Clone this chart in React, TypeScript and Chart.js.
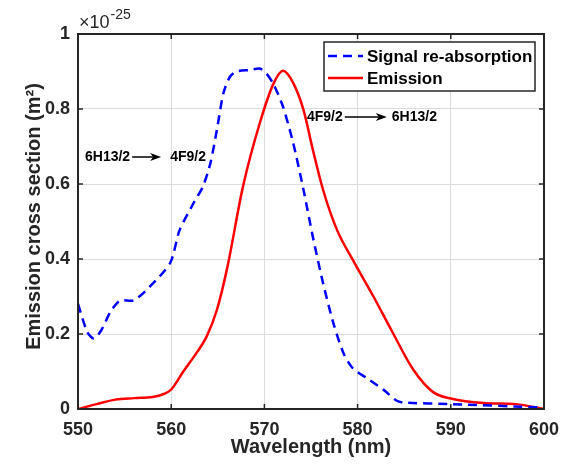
import React, { useEffect, useRef } from "react";
import { Chart, registerables } from "chart.js";

Chart.register(...registerables);

// Signal re-absorption (blue dashed)
const absWavelength = [550, 551, 551.7, 552.5, 553.5, 554.5, 556, 557.7, 559.9, 560.9, 562.4, 563.4, 564.2, 564.9, 565.6, 566.3, 567.0, 568.5, 569.5, 570.2, 571.0, 572.0, 573.1, 574.2, 575.2, 576.3, 577.4, 578.5, 579.5, 581.0, 582.8, 584.2, 585, 590, 600];
const absValue = [0.28, 0.205, 0.188, 0.21, 0.26, 0.289, 0.29, 0.326, 0.39, 0.477, 0.549, 0.593, 0.655, 0.744, 0.842, 0.886, 0.90, 0.904, 0.908, 0.895, 0.865, 0.806, 0.708, 0.584, 0.459, 0.335, 0.229, 0.148, 0.108, 0.082, 0.051, 0.022, 0.017, 0.013, 0.004];

// Emission (red solid)
const emWavelength = [550, 552, 554, 556, 558, 559.2, 560, 561.3, 562.7, 563.8, 564.9, 566, 567.7, 569.5, 571.0, 572.0, 573.1, 574.2, 575.2, 576.3, 577.8, 579.5, 581.7, 583.8, 586.0, 588.1, 590, 593.5, 597, 600];
const emValue = [0, 0.013, 0.025, 0.029, 0.032, 0.04, 0.052, 0.10, 0.149, 0.193, 0.264, 0.375, 0.593, 0.762, 0.869, 0.902, 0.869, 0.797, 0.691, 0.584, 0.477, 0.397, 0.30, 0.202, 0.104, 0.045, 0.028, 0.016, 0.013, 0];

const xTickValues = [550, 560, 570, 580, 590, 600];
const yTickValues = [0, 0.2, 0.4, 0.6, 0.8, 1];
const yTickLabels = ["0", "0.2", "0.4", "0.6", "0.8", "1"];

const seriesNames = ["Signal re-absorption", "Emission"];
const xTitle = "Wavelength (nm)";
const yTitle = "Emission cross section (m\u00B2)";
const annotations = [
  { x: 550.75, y: 0.672, from: "6H13/2", to: "4F9/2", arrow: 29, gapTo: 9 },
  { x: 574.57, y: 0.779, from: "4F9/2", to: "6H13/2", arrow: 42, gapTo: 5 },
];

const FONT = "'Liberation Sans', Arial, Helvetica, sans-serif";
const AXIS = "#262626";

const framePlugin = {
  id: "framePlugin",
  afterDatasetsDraw(chart: any) {
    const ctx = chart.ctx;
    const { left, right, top, bottom } = chart.chartArea;
    const xs = chart.scales.x;
    const ys = chart.scales.y;
    ctx.save();
    // annotations
    ctx.fillStyle = "#000";
    ctx.strokeStyle = "#000";
    ctx.font = `bold 14px ${FONT}`;
    ctx.textBaseline = "middle";
    ctx.textAlign = "left";
    for (const a of annotations) {
      const px = xs.getPixelForValue(a.x);
      const py = ys.getPixelForValue(a.y);
      ctx.fillText(a.from, px, py);
      const w = ctx.measureText(a.from).width;
      const x0 = px + w + 2;
      const x1 = x0 + a.arrow;
      ctx.lineWidth = 1.5;
      ctx.beginPath();
      ctx.moveTo(x0, py);
      ctx.lineTo(x1 - 8, py);
      ctx.stroke();
      ctx.beginPath();
      ctx.moveTo(x1, py);
      ctx.lineTo(x1 - 11, py - 4);
      ctx.lineTo(x1 - 8, py);
      ctx.lineTo(x1 - 11, py + 4);
      ctx.closePath();
      ctx.fill();
      ctx.fillText(a.to, x1 + a.gapTo, py);
    }
    // frame
    ctx.strokeStyle = AXIS;
    ctx.lineWidth = 2;
    ctx.strokeRect(left, top, right - left, bottom - top);
    // inward ticks
    ctx.lineWidth = 1.5;
    ctx.beginPath();
    for (const v of xTickValues) {
      const p = xs.getPixelForValue(v);
      ctx.moveTo(p, bottom);
      ctx.lineTo(p, bottom - 5);
      ctx.moveTo(p, top);
      ctx.lineTo(p, top + 5);
    }
    for (const v of yTickValues) {
      const p = ys.getPixelForValue(v);
      ctx.moveTo(left, p);
      ctx.lineTo(left + 5, p);
      ctx.moveTo(right, p);
      ctx.lineTo(right - 5, p);
    }
    ctx.stroke();
    // legend
    const bx1 = right - 9;
    const bx0 = bx1 - 211;
    const by0 = top + 8;
    const by1 = by0 + 49;
    ctx.fillStyle = "#fff";
    ctx.fillRect(bx0, by0, bx1 - bx0, by1 - by0);
    ctx.strokeStyle = AXIS;
    ctx.lineWidth = 1.5;
    ctx.strokeRect(bx0, by0, bx1 - bx0, by1 - by0);
    const rows = [by0 + 14, by0 + 36];
    const ds = chart.data.datasets;
    for (let i = 0; i < 2; i++) {
      ctx.strokeStyle = ds[i].borderColor;
      ctx.lineWidth = 2.5;
      ctx.setLineDash(ds[i].borderDash || []);
      ctx.beginPath();
      ctx.moveTo(bx0 + 4, rows[i]);
      ctx.lineTo(bx0 + 39, rows[i]);
      ctx.stroke();
      ctx.setLineDash([]);
      ctx.fillStyle = "#000";
      ctx.font = `bold 17px ${FONT}`;
      ctx.textBaseline = "middle";
      ctx.textAlign = "left";
      ctx.fillText(seriesNames[i], bx0 + 43, rows[i] + 1);
    }
    // exponent
    ctx.fillStyle = AXIS;
    ctx.textBaseline = "alphabetic";
    ctx.font = `18px ${FONT}`;
    ctx.fillText("\u00D710", left + 1, top - 6);
    const ew = ctx.measureText("\u00D710").width;
    ctx.font = `14px ${FONT}`;
    ctx.fillText("-25", left + 2 + ew, top - 15);
    // axis titles
    ctx.font = `bold 20px ${FONT}`;
    ctx.textAlign = "center";
    ctx.fillText(xTitle, (left + right) / 2, bottom + 44);
    ctx.save();
    ctx.translate(40, (top + bottom) / 2 - 5);
    ctx.rotate(-Math.PI / 2);
    ctx.fillText(yTitle, 0, 0);
    ctx.restore();
    ctx.restore();
  },
};

export default function App() {
  const ref = useRef<HTMLCanvasElement | null>(null);
  useEffect(() => {
    if (!ref.current) return;
    const chart = new Chart(ref.current, {
      type: "line",
      data: {
        datasets: [
          {
            label: seriesNames[0],
            data: absWavelength.map((x, i) => ({ x, y: absValue[i] })),
            borderColor: "#0000ff",
            borderWidth: 2.5,
            borderDash: [9, 6],
            pointRadius: 0,
            tension: 0.25,
            fill: false,
          },
          {
            label: seriesNames[1],
            data: emWavelength.map((x, i) => ({ x, y: emValue[i] })),
            borderColor: "#ff0000",
            borderWidth: 2.5,
            pointRadius: 0,
            cubicInterpolationMode: "monotone",
            fill: false,
          },
        ],
      },
      options: {
        responsive: false,
        animation: false,
        layout: { padding: { top: 34, right: 31, left: 0, bottom: 0 } },
        plugins: { legend: { display: false }, tooltip: { enabled: false } },
        scales: {
          x: {
            type: "linear",
            min: 550,
            max: 600,
            afterFit: (s: any) => { s.height = 58; },
            afterBuildTicks: (s: any) => { s.ticks = xTickValues.map((v) => ({ value: v })); },
            grid: { color: "#dcdcdc", lineWidth: 1, drawTicks: false },
            border: { display: false },
            ticks: {
              padding: 10,
              color: AXIS,
              font: { family: FONT, size: 18, weight: "bold" },
              maxRotation: 0,
              callback: (v: any) => String(v),
            },
          },
          y: {
            min: 0,
            max: 1,
            afterFit: (s: any) => { s.width = 78; },
            afterBuildTicks: (s: any) => { s.ticks = yTickValues.map((v) => ({ value: v })); },
            grid: { color: "#dcdcdc", lineWidth: 1, drawTicks: false },
            border: { display: false },
            ticks: {
              padding: 8,
              color: AXIS,
              font: { family: FONT, size: 18, weight: "bold" },
              callback: (v: any) => {
                const i = yTickValues.findIndex((t) => Math.abs(t - v) < 1e-9);
                return i >= 0 ? yTickLabels[i] : "";
              },
            },
          },
        },
      },
      plugins: [framePlugin],
    } as any);
    return () => chart.destroy();
  }, []);
  return (
    <div style={{ position: "absolute", left: 0, top: 0, width: 575, height: 467, background: "#fff" }}>
      <canvas ref={ref} width={575} height={467} style={{ width: 575, height: 467 }} />
    </div>
  );
}
